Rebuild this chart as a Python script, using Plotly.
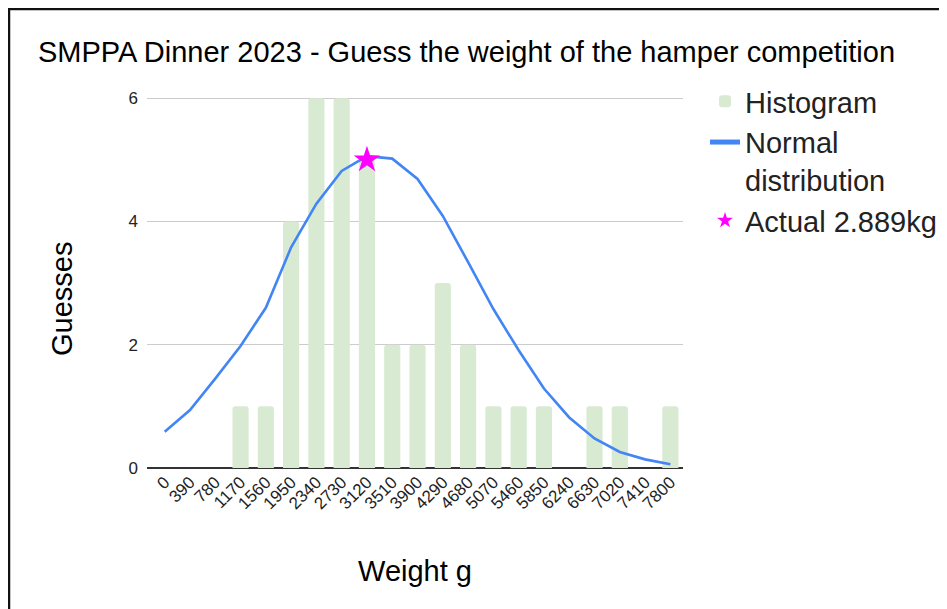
import plotly.graph_objects as go

categories = ["0", "390", "780", "1170", "1560", "1950", "2340", "2730", "3120", "3510",
              "3900", "4290", "4680", "5070", "5460", "5850", "6240", "6630", "7020", "7410", "7800"]
histogram = [0, 0, 0, 1, 1, 4, 6, 6, 5, 2, 2, 3, 2, 1, 1, 1, 0, 1, 1, 0, 1]
normal = [0.59, 0.94, 1.45, 1.98, 2.6, 3.58, 4.29, 4.82, 5.06, 5.02, 4.69, 4.09, 3.34,
          2.58, 1.91, 1.29, 0.82, 0.48, 0.26, 0.14, 0.06]
actual_x = ["3120"]
actual_y = [5.0]

FONT = "Liberation Sans, Arial, sans-serif"

fig = go.Figure()
fig.add_trace(go.Bar(x=categories, y=histogram, name="Histogram",
                     marker=dict(color="#d9ead3", line=dict(width=0))))
fig.add_trace(go.Scatter(x=categories, y=normal, name="Normal<br>distribution", mode="lines",
                         line=dict(color="#4285f4", width=2.6)))
fig.add_trace(go.Scatter(x=actual_x, y=actual_y, name="Actual 2.889kg", mode="markers",
                         marker=dict(symbol="star", color="#ff00ff", size=20, line=dict(width=0))))

OFF = 8  # page body margin
W, H = 947 - OFF, 609 - OFF
# plot area in screen pixels
L, R, T, B = 147, 683, 97, 468
pw, ph = R - L, B - T

def px(x):
    return (x - L) / pw

def py(y):
    return (B - y) / ph

fig.update_layout(
    width=W, height=H,
    margin=dict(l=L - OFF, r=947 - R, t=T - OFF, b=609 - B, autoexpand=False),
    paper_bgcolor="white", plot_bgcolor="white",
    font=dict(family=FONT, color="#000000"),
    bargap=0.36,
    barcornerradius=3,
    title=dict(text="SMPPA Dinner 2023 - Guess the weight of the hamper competition",
               x=(38 - OFF) / W, xref="container", xanchor="left",
               y=1 - (52 - OFF) / H, yref="container", yanchor="middle",
               font=dict(size=29, family=FONT, color="#000000")),
    xaxis=dict(type="category", tickangle=-45, tickfont=dict(size=17, color="#222"),
               showgrid=False, showline=False, ticks="",
               title=dict(text="Weight g", font=dict(size=29), standoff=48),
               range=[-0.7, 20.5]),
    yaxis=dict(range=[0, 6.02], tickvals=[0, 2, 4, 6], ticktext=["0", "2", "4", "6"],
               tickfont=dict(size=17, color="#222"), gridcolor="#cccccc", gridwidth=1,
               zeroline=True, zerolinecolor="#333333", zerolinewidth=1.5,
               showline=False, ticks="", ticklabelstandoff=8),
    annotations=[
        dict(text="Guesses", xref="paper", yref="paper", x=px(62), y=py(299),
             xanchor="center", yanchor="middle", textangle=-90, showarrow=False,
             font=dict(size=29, family=FONT, color="#000000")),
    ],
    legend=dict(x=px(705), y=py(76), xanchor="left", yanchor="top", valign="top",
                font=dict(size=29, family=FONT, color="#222"),
                itemsizing="constant", tracegroupgap=0, bgcolor="rgba(0,0,0,0)"),
    showlegend=True,
    shapes=[
        dict(type="line", xref="paper", yref="paper", x0=px(OFF), x1=px(947 + 5),
             y0=py(OFF + 1), y1=py(OFF + 1), line=dict(color="#111", width=2.5)),
        dict(type="line", xref="paper", yref="paper", x0=px(OFF + 1), x1=px(OFF + 1),
             y0=py(OFF), y1=py(609 + 5), line=dict(color="#111", width=2.5)),
    ],
)

fig.write_html("out.html")
